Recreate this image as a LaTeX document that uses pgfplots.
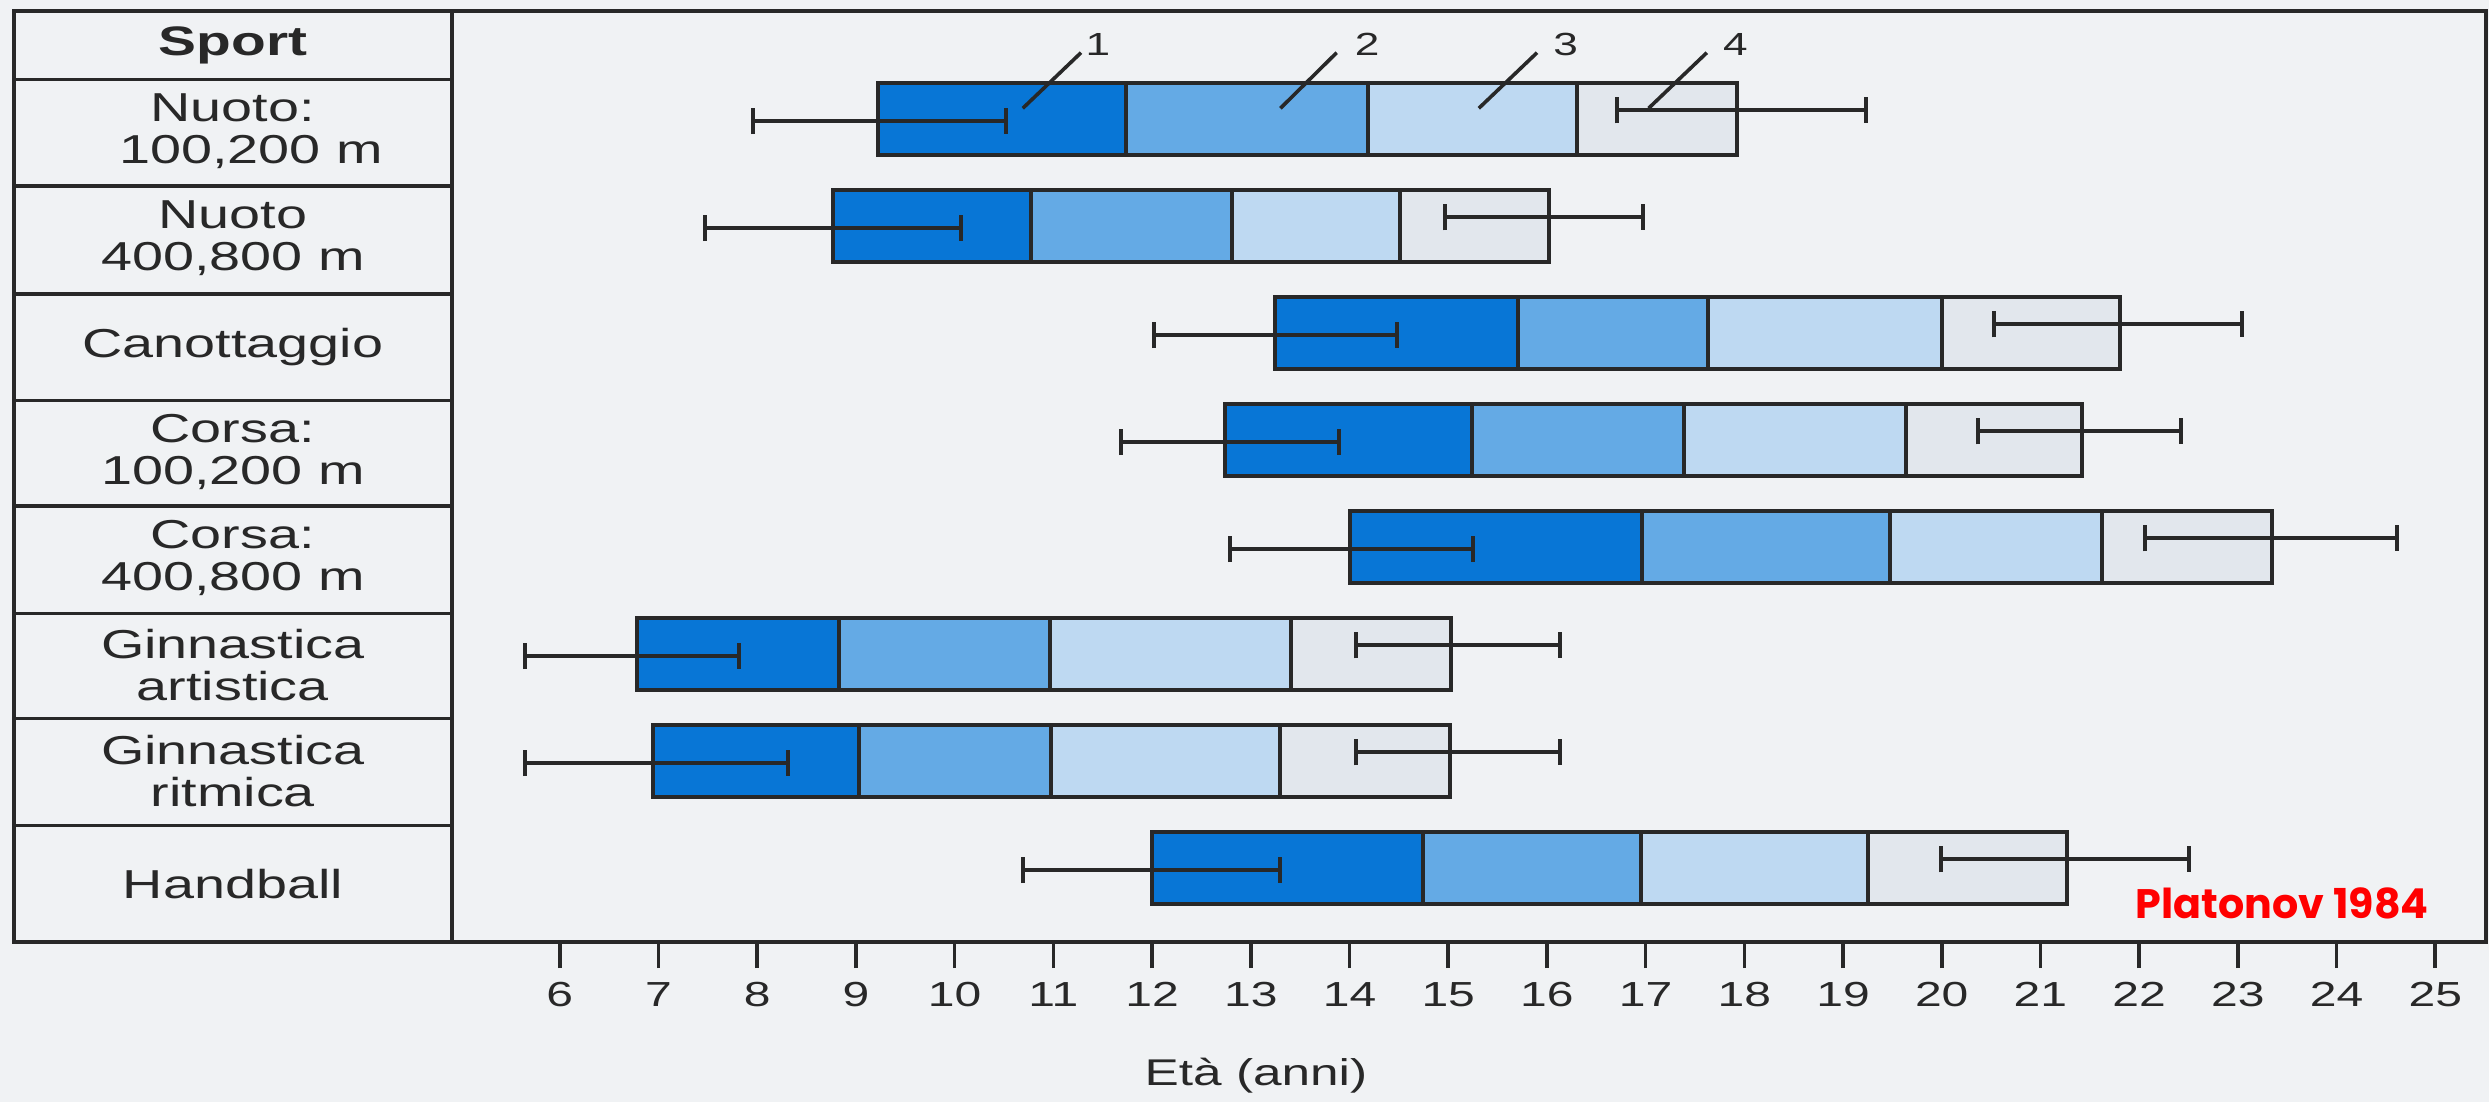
\documentclass[border=0pt]{standalone}
\usepackage{pgfplots}
\pgfplotsset{compat=1.18}
\usepackage{pgfplotstable}
\usepackage{graphicx}
\usepackage{fontspec}
\setmainfont{Liberation Sans}
\newfontfamily\plfont{Poppins}

\definecolor{bg}{RGB}{240,242,244}
\definecolor{c1}{RGB}{8,118,214}
\definecolor{c2}{RGB}{100,170,229}
\definecolor{c3}{RGB}{190,217,242}
\definecolor{c4}{RGB}{226,231,237}
\definecolor{ln}{RGB}{40,40,40}

\newcommand{\hs}[1]{\scalebox{1.38}[1]{#1}}
\newcommand{\rowfont}{\fontsize{10.1}{10.5}\selectfont}

% bars: start and the four segment lengths (years)
\pgfplotstableread{
k start s1 s2 s3 s4
0 9.22 2.52 2.45 2.11 1.63
1 8.77 2.00 2.04 1.70 1.51
2 13.25 2.46 1.92 2.37 1.81
3 12.74 2.50 2.15 2.25 1.78
4 14.01 2.95 2.52 2.14 1.73
5 6.78 2.05 2.14 2.44 1.62
6 6.94 2.09 1.95 2.32 1.72
7 12.00 2.74 2.21 2.30 2.02
}\bars

% error bars: left (start) and right (end)
\pgfplotstableread{
kl lc le kr rc re
0.02 9.24 1.28 -0.08 17.97 1.26
1.02 8.765 1.295 0.92 15.97 1.00
2.02 13.25 1.23 1.92 21.785 1.255
3.02 12.785 1.105 2.92 21.395 1.025
4.02 14.02 1.23 3.92 23.335 1.275
5.02 6.73 1.08 4.92 15.10 1.03
6.02 6.98 1.33 5.92 15.10 1.03
7.02 11.995 1.305 6.92 21.245 1.255
}\errs

\pgfplotsset{common/.style={
  at={(0,0)}, anchor=south west, scale only axis,
  width=618pt, height=232.8pt,
  xmin=0.47, xmax=25.514, ymin=-1.014, ymax=7.690, y dir=reverse,
  clip=false,
}}

\begin{document}
\begin{tikzpicture}
\fill[bg] (-3.5pt,-40.075pt) rectangle (618.75pt,235.425pt);
\begin{axis}[common,
  axis line style={line width=1pt, draw=ln},
  xtick={6,...,25}, xtick pos=bottom, xtick align=outside,
  major tick length=6.6pt,
  tick style={line width=0.9pt, draw=ln},
  ytick=\empty,
  xticklabel={\hs{\pgfmathprintnumber[assume math mode=true]{\tick}}},
  xticklabel style={font=\fontsize{8.7}{10}\selectfont, text=ln},
  xlabel={\hs{Età (anni)}},
  xlabel style={at={(rel axis cs:0.5,0)}, anchor=center, yshift=-33.5pt, xshift=1.5pt,
    font=\fontsize{9.3}{11}\selectfont, text=ln},
  xbar stacked, bar width=0.67,
]
\addplot[draw=none, fill=none, forget plot] table[x=start, y=k] \bars;
\addplot[fill=c1, draw=ln, line width=1pt] table[x=s1, y=k] \bars;
\addplot[fill=c2, draw=ln, line width=1pt] table[x=s2, y=k] \bars;
\addplot[fill=c3, draw=ln, line width=1pt] table[x=s3, y=k] \bars;
\addplot[fill=c4, draw=ln, line width=1pt] table[x=s4, y=k] \bars;
\end{axis}

\begin{axis}[common, hide axis]
\addplot[draw=none, mark=none,
  error bars/.cd, x dir=both, x explicit,
  error bar style={line width=1pt, draw=ln, solid},
  error mark options={rotate=90, mark size=3.25pt, line width=1pt, draw=ln}]
  table[x=lc, y=kl, x error=le] \errs;
\addplot[draw=none, mark=none,
  error bars/.cd, x dir=both, x explicit,
  error bar style={line width=1pt, draw=ln, solid},
  error mark options={rotate=90, mark size=3.25pt, line width=1pt, draw=ln}]
  table[x=rc, y=kr, x error=re] \errs;

% table column
\draw[line width=0.8pt, ln] (axis cs:0.47,-0.370) -- (axis cs:4.906,-0.370);
\draw[line width=0.8pt, ln] (axis cs:0.47,0.626) -- (axis cs:4.906,0.626);
\draw[line width=0.8pt, ln] (axis cs:0.47,1.636) -- (axis cs:4.906,1.636);
\draw[line width=0.8pt, ln] (axis cs:0.47,2.632) -- (axis cs:4.906,2.632);
\draw[line width=0.8pt, ln] (axis cs:0.47,3.617) -- (axis cs:4.906,3.617);
\draw[line width=0.8pt, ln] (axis cs:0.47,4.621) -- (axis cs:4.906,4.621);
\draw[line width=0.8pt, ln] (axis cs:0.47,5.607) -- (axis cs:4.906,5.607);
\draw[line width=0.8pt, ln] (axis cs:0.47,6.607) -- (axis cs:4.906,6.607);
\draw[line width=1pt, ln] (axis cs:4.906,-1.014) -- (axis cs:4.906,7.690);

\node[font=\fontsize{10.3}{12}\selectfont\bfseries, text=ln] at (axis cs:2.687,-0.692) {\hs{Sport}};
\node[align=center, font=\rowfont, text=ln] at (axis cs:2.687,0.110) {\hs{Nuoto:}\\\hspace*{9pt}\hs{100,200 m}};
\node[align=center, font=\rowfont, text=ln] at (axis cs:2.687,1.115) {\hs{Nuoto}\\\hs{400,800 m}};
\node[align=center, font=\rowfont, text=ln] at (axis cs:2.687,2.134) {\hs{Canottaggio}};
\node[align=center, font=\rowfont, text=ln] at (axis cs:2.687,3.110) {\hs{Corsa:}\\\hs{100,200 m}};
\node[align=center, font=\rowfont, text=ln] at (axis cs:2.687,4.100) {\hs{Corsa:}\\\hs{400,800 m}};
\node[align=center, font=\rowfont, text=ln] at (axis cs:2.687,5.100) {\hs{Ginnastica}\\\hs{artistica}};
\node[align=center, font=\rowfont, text=ln] at (axis cs:2.687,6.095) {\hs{Ginnastica}\\\hs{ritmica}};
\node[align=center, font=\rowfont, text=ln] at (axis cs:2.687,7.148) {\hs{Handball}};

% pointer labels 1-4
\draw[line width=0.9pt, ln] (axis cs:10.69,-0.10) -- (axis cs:11.28,-0.62);
\draw[line width=0.9pt, ln] (axis cs:13.30,-0.10) -- (axis cs:13.87,-0.62);
\draw[line width=0.9pt, ln] (axis cs:15.31,-0.10) -- (axis cs:15.90,-0.62);
\draw[line width=0.9pt, ln] (axis cs:17.03,-0.10) -- (axis cs:17.62,-0.62);
\node[font=\fontsize{8}{9}\selectfont, text=ln] at (axis cs:11.45,-0.70) {\hs{1}};
\node[font=\fontsize{8}{9}\selectfont, text=ln] at (axis cs:14.18,-0.70) {\hs{2}};
\node[font=\fontsize{8}{9}\selectfont, text=ln] at (axis cs:16.19,-0.70) {\hs{3}};
\node[font=\fontsize{8}{9}\selectfont, text=ln] at (axis cs:17.91,-0.70) {\hs{4}};

\node[font=\plfont\bfseries\fontsize{10.3}{11}\selectfont, text=red] at (axis cs:23.45,7.33) {Platonov 1984};
\end{axis}
\pgfresetboundingbox
\useasboundingbox (-3.5pt,-40.075pt) rectangle (618.75pt,235.425pt);
\end{tikzpicture}
\end{document}
